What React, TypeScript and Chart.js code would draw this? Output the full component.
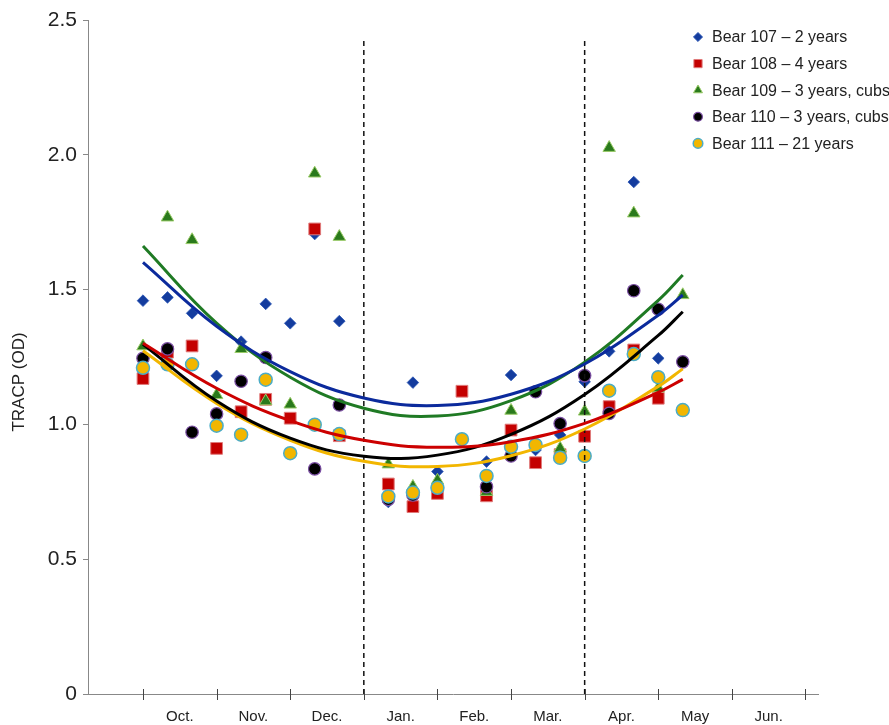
import React, { useEffect, useRef } from 'react';
import { Chart, registerables } from 'chart.js';

Chart.register(...registerables);

// ---------- data ----------
const MONTHS = ['Oct.', 'Nov.', 'Dec.', 'Jan.', 'Feb.', 'Mar.', 'Apr.', 'May', 'Jun.'];
const MONTH_TICKS = [0, 1, 2, 3, 4, 5, 6, 7, 8, 9];
const Y_TICKS = [0, 0.5, 1, 1.5, 2, 2.5];
const Y_TICK_LABELS = ['0', '0.5', '1.0', '1.5', '2.0', '2.5'];
const SEASON_BOUNDARIES = [3, 6];
const BOUNDARY_TOP = 2.43;
const Y_TITLE = 'TRACP (OD)';

// sampling dates, in months after 1 Oct (thirds of a month)
const SAMPLE_X = [0, 0.333, 0.667, 1, 1.333, 1.667, 2, 2.333, 2.667, 3.333, 3.667, 4, 4.333, 4.667, 5, 5.333, 5.667, 6, 6.333, 6.667, 7, 7.333];

const BEAR_107 = [1.459, 1.471, 1.412, 1.18, 1.307, 1.447, 1.375, 1.706, 1.383, 0.712, 1.155, 0.825, null, 0.862, 1.183, 0.905, 0.961, 1.158, 1.271, 1.899, 1.245, null];
const BEAR_108 = [1.17, 1.268, 1.291, 0.911, 1.047, 1.093, 1.023, 1.725, 0.958, 0.779, 0.695, 0.744, 1.123, 0.735, 0.979, 0.858, 0.888, 0.956, 1.066, 1.276, 1.097, null];
const BEAR_109 = [1.29, 1.768, 1.684, 1.109, 1.28, 1.086, 1.074, 1.931, 1.696, 0.852, 0.769, 0.792, null, 0.75, 1.051, null, 0.911, 1.048, 2.026, 1.783, 1.134, 1.48];
const BEAR_110 = [1.245, 1.28, 0.971, 1.039, 1.16, 1.248, null, 0.835, 1.072, 0.722, 0.738, null, null, 0.769, 0.883, 1.121, 1.003, 1.181, 1.041, 1.496, 1.427, 1.232];
const BEAR_111 = [1.21, 1.223, 1.223, 0.995, 0.962, 1.166, 0.893, 0.999, 0.964, 0.733, 0.747, 0.765, 0.945, 0.809, 0.917, 0.924, 0.876, 0.883, 1.125, 1.261, 1.175, 1.053];

// trend curves
const TREND_X = [0, 1, 2, 3, 4, 5, 6, 7, 7.333];
const TREND_107 = [1.601, 1.364, 1.196, 1.098, 1.07, 1.112, 1.224, 1.405, 1.48];
const TREND_108 = [1.301, 1.134, 1.014, 0.941, 0.915, 0.936, 1.004, 1.119, 1.167];
const TREND_109 = [1.662, 1.376, 1.175, 1.06, 1.031, 1.088, 1.231, 1.46, 1.554];
const TREND_110 = [1.297, 1.087, 0.949, 0.882, 0.886, 0.963, 1.111, 1.33, 1.418];
const TREND_111 = [1.273, 1.078, 0.941, 0.863, 0.844, 0.884, 0.983, 1.141, 1.206];

const LABELS = ['Bear 107 – 2 years', 'Bear 108 – 4 years', 'Bear 109 – 3 years, cubs', 'Bear 110 – 3 years, cubs', 'Bear 111 – 21 years'];

// ---------- styles ----------
const FONT = "'Liberation Sans', Arial, Helvetica, sans-serif";
const STYLES = [
  { style: 'rectRot', radius: 5.8, legendRadius: 4.6, fill: '#143c9e', border: '#2a55b5', bw: 0.8, line: '#0b2a9c', order: 5 },
  { style: 'rect', radius: 8.3, legendRadius: 5.8, fill: '#c40000', border: '#e07a7a', bw: 1, line: '#cc0000', order: 4 },
  { style: 'triangle', radius: 7.2, legendRadius: 5.2, fill: '#2a7a1c', border: '#9acb68', bw: 1, line: '#1f7a24', order: 3 },
  { style: 'circle', radius: 6.2, legendRadius: 4.4, fill: '#000000', border: '#7b4fa3', bw: 1.2, line: '#000000', order: 2 },
  { style: 'circle', radius: 6.5, legendRadius: 4.8, fill: '#f2b600', border: '#4bacc6', bw: 1.5, line: '#f2b600', order: 1 },
];
const SERIES = [BEAR_107, BEAR_108, BEAR_109, BEAR_110, BEAR_111];
const TRENDS = [TREND_107, TREND_108, TREND_109, TREND_110, TREND_111];

function drawMarker(ctx: CanvasRenderingContext2D, style: string, x: number, y: number, r: number, fill: string, border: string, bw: number) {
  ctx.save();
  ctx.beginPath();
  if (style === 'rectRot') {
    ctx.moveTo(x - r, y); ctx.lineTo(x, y - r); ctx.lineTo(x + r, y); ctx.lineTo(x, y + r); ctx.closePath();
  } else if (style === 'rect') {
    const s = r * Math.SQRT1_2;
    ctx.rect(x - s, y - s, 2 * s, 2 * s);
  } else if (style === 'triangle') {
    for (let i = 0; i < 3; i++) {
      const a = i * (2 * Math.PI / 3);
      const px = x + Math.sin(a) * r, py = y - Math.cos(a) * r;
      if (i === 0) ctx.moveTo(px, py); else ctx.lineTo(px, py);
    }
    ctx.closePath();
  } else {
    ctx.arc(x, y, r, 0, Math.PI * 2);
  }
  ctx.fillStyle = fill;
  ctx.fill();
  ctx.lineWidth = bw;
  ctx.strokeStyle = border;
  ctx.stroke();
  ctx.restore();
}

const decorPlugin = {
  id: 'decor',
  afterDraw(chart: any) {
    const ctx: CanvasRenderingContext2D = chart.ctx;
    const xs = chart.scales.x;
    const bottom = chart.chartArea.bottom;
    // tick marks crossing the x axis
    ctx.save();
    ctx.strokeStyle = '#444';
    ctx.lineWidth = 1;
    MONTH_TICKS.forEach((v) => {
      const px = Math.round(xs.getPixelForValue(v)) + 0.5;
      ctx.beginPath();
      ctx.moveTo(px, bottom - 5);
      ctx.lineTo(px, bottom + 6);
      ctx.stroke();
    });
    ctx.restore();

    // y title
    ctx.save();
    ctx.translate(19, 382);
    ctx.rotate(-Math.PI / 2);
    ctx.font = `17px ${FONT}`;
    ctx.fillStyle = '#222';
    ctx.textAlign = 'center';
    ctx.textBaseline = 'middle';
    ctx.fillText(Y_TITLE, 0, 0);
    ctx.restore();

    // legend
    ctx.save();
    ctx.font = `16px ${FONT}`;
    ctx.textBaseline = 'middle';
    ctx.textAlign = 'left';
    LABELS.forEach((label, i) => {
      const s = STYLES[i];
      const y = 37 + i * 26.6;
      drawMarker(ctx, s.style, 698, y, s.legendRadius, s.fill, s.border, s.bw);
      ctx.fillStyle = '#222';
      ctx.fillText(label, 712, y + 1);
    });
    ctx.restore();
  },
};

export default function App() {
  const ref = useRef<HTMLCanvasElement | null>(null);

  useEffect(() => {
    if (!ref.current) return;
    const datasets: any[] = [];

    SERIES.forEach((vals, i) => {
      const s = STYLES[i];
      datasets.push({
        type: 'scatter',
        label: LABELS[i],
        data: SAMPLE_X.map((x, j) => (vals[j] == null ? null : { x, y: vals[j] })).filter(Boolean),
        pointStyle: s.style,
        pointRadius: s.radius,
        pointBackgroundColor: s.fill,
        pointBorderColor: s.border,
        pointBorderWidth: s.bw,
        showLine: false,
        order: s.order,
      });
    });

    TRENDS.forEach((vals, i) => {
      const s = STYLES[i];
      datasets.push({
        type: 'line',
        label: LABELS[i] + ' trend',
        data: TREND_X.map((x, j) => ({ x, y: vals[j] })),
        borderColor: s.line,
        borderWidth: 3,
        pointRadius: 0,
        tension: 0.4,
        fill: false,
        order: 0,
      });
    });

    SEASON_BOUNDARIES.forEach((b) => {
      datasets.push({
        type: 'line',
        label: 'boundary',
        data: [{ x: b, y: 0 }, { x: b, y: BOUNDARY_TOP }],
        borderColor: '#111',
        borderWidth: 1.5,
        borderDash: [5, 4],
        pointRadius: 0,
        fill: false,
        order: 0,
      });
    });

    const chart = new Chart(ref.current, {
      type: 'scatter',
      data: { datasets },
      options: {
        responsive: false,
        animation: false,
        layout: { padding: { top: 20, right: 71, left: 0, bottom: 0 } },
        plugins: { legend: { display: false }, tooltip: { enabled: false } },
        scales: {
          x: {
            type: 'linear',
            min: -0.747,
            max: 9.17,
            afterBuildTicks: (scale: any) => {
              const t = [...MONTH_TICKS, ...MONTHS.map((_, i) => i + 0.5)].sort((a, b) => a - b);
              scale.ticks = t.map((v) => ({ value: v }));
            },
            afterFit: (scale: any) => { scale.height = 31; },
            ticks: {
              autoSkip: false,
              maxRotation: 0,
              minRotation: 0,
              padding: 14,
              color: '#222',
              font: { family: FONT, size: 15 },
              callback: (v: any) => (Number.isInteger(v) ? '' : MONTHS[Math.floor(v)]),
            },
            grid: { drawOnChartArea: false, drawTicks: false },
            border: { color: '#888', width: 1 },
          },
          y: {
            type: 'linear',
            min: 0,
            max: 2.5,
            afterBuildTicks: (scale: any) => { scale.ticks = Y_TICKS.map((v) => ({ value: v })); },
            afterFit: (scale: any) => { scale.width = 88; },
            ticks: {
              padding: 6,
              color: '#222',
              font: { family: FONT, size: 21 },
              callback: (v: any) => { const i = Y_TICKS.indexOf(v); return i >= 0 ? Y_TICK_LABELS[i] : ''; },
            },
            grid: { drawOnChartArea: false, drawTicks: true, tickLength: 5, tickColor: '#888', color: '#888' },
            border: { color: '#888', width: 1 },
          },
        },
      },
      plugins: [decorPlugin],
    });
    return () => chart.destroy();
  }, []);

  return (
    <div style={{ position: 'absolute', left: 0, top: 0, width: 889, height: 725, background: '#fff' }}>
      <canvas ref={ref} width={889} height={725} style={{ display: 'block' }} />
    </div>
  );
}
